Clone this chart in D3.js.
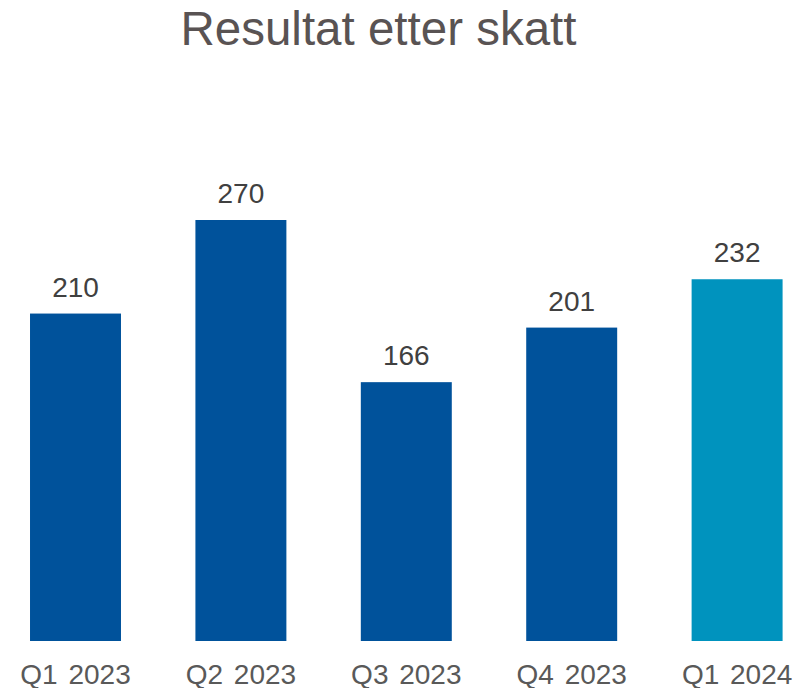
<!DOCTYPE html>
<html>
<head>
<meta charset="utf-8">
<script src="https://cdn.jsdelivr.net/npm/d3@7"></script>
<style>
  body { margin: 0; background: #fff; }
  text { font-family: "Liberation Sans", Arial, sans-serif; }
</style>
</head>
<body>
<svg width="800" height="688"></svg>
<script>
const title = "Resultat etter skatt";
const quarters = ["Q1 2023", "Q2 2023", "Q3 2023", "Q4 2023", "Q1 2024"];
const values = [210, 270, 166, 201, 232];
const barColors = ["#00529b", "#00529b", "#00529b", "#00529b", "#0093be"];

const width = 800;
const height = 688;
const baseY = 641;

const svg = d3.select('svg');

// x
const x = d3.scaleBand()
    .domain(quarters)
    .range([-7.2, 819.8])
    .paddingInner(0.45)
    .paddingOuter(0.225);

// y
const y = d3.scaleLinear()
    .domain([0, 270])
    .range([baseY, 220]);

// title
svg.append('text')
    .attr('x', 378.5)
    .attr('y', 45)
    .attr('text-anchor', 'middle')
    .attr('fill', '#595353')
    .style('font-size', '47.5px')
    .text(title);

// bars
svg.selectAll('rect.bar')
    .data(values)
    .join('rect')
    .attr('class', 'bar')
    .attr('x', (d, i) => x(quarters[i]))
    .attr('width', x.bandwidth())
    .attr('y', d => y(d))
    .attr('height', d => baseY - y(d))
    .attr('fill', (d, i) => barColors[i]);

// value labels
svg.selectAll('text.val')
    .data(values)
    .join('text')
    .attr('class', 'val')
    .attr('x', (d, i) => x(quarters[i]) + x.bandwidth() / 2)
    .attr('y', d => y(d) - 17)
    .attr('text-anchor', 'middle')
    .attr('fill', '#404040')
    .style('font-size', '28px')
    .text(d => d);

// x axis
const xAxis = d3.axisBottom(x).tickSize(0).tickPadding(0);
const gx = svg.append('g')
    .attr('transform', `translate(0, ${baseY})`)
    .call(xAxis);
gx.select('.domain').remove();
gx.selectAll('text')
    .attr('y', 43)
    .attr('dy', null)
    .attr('fill', '#595959')
    .style('font-family', '"Liberation Sans", Arial, sans-serif')
    .style('font-size', '28px')
    .style('word-spacing', '3px');
</script>
</body>
</html>
